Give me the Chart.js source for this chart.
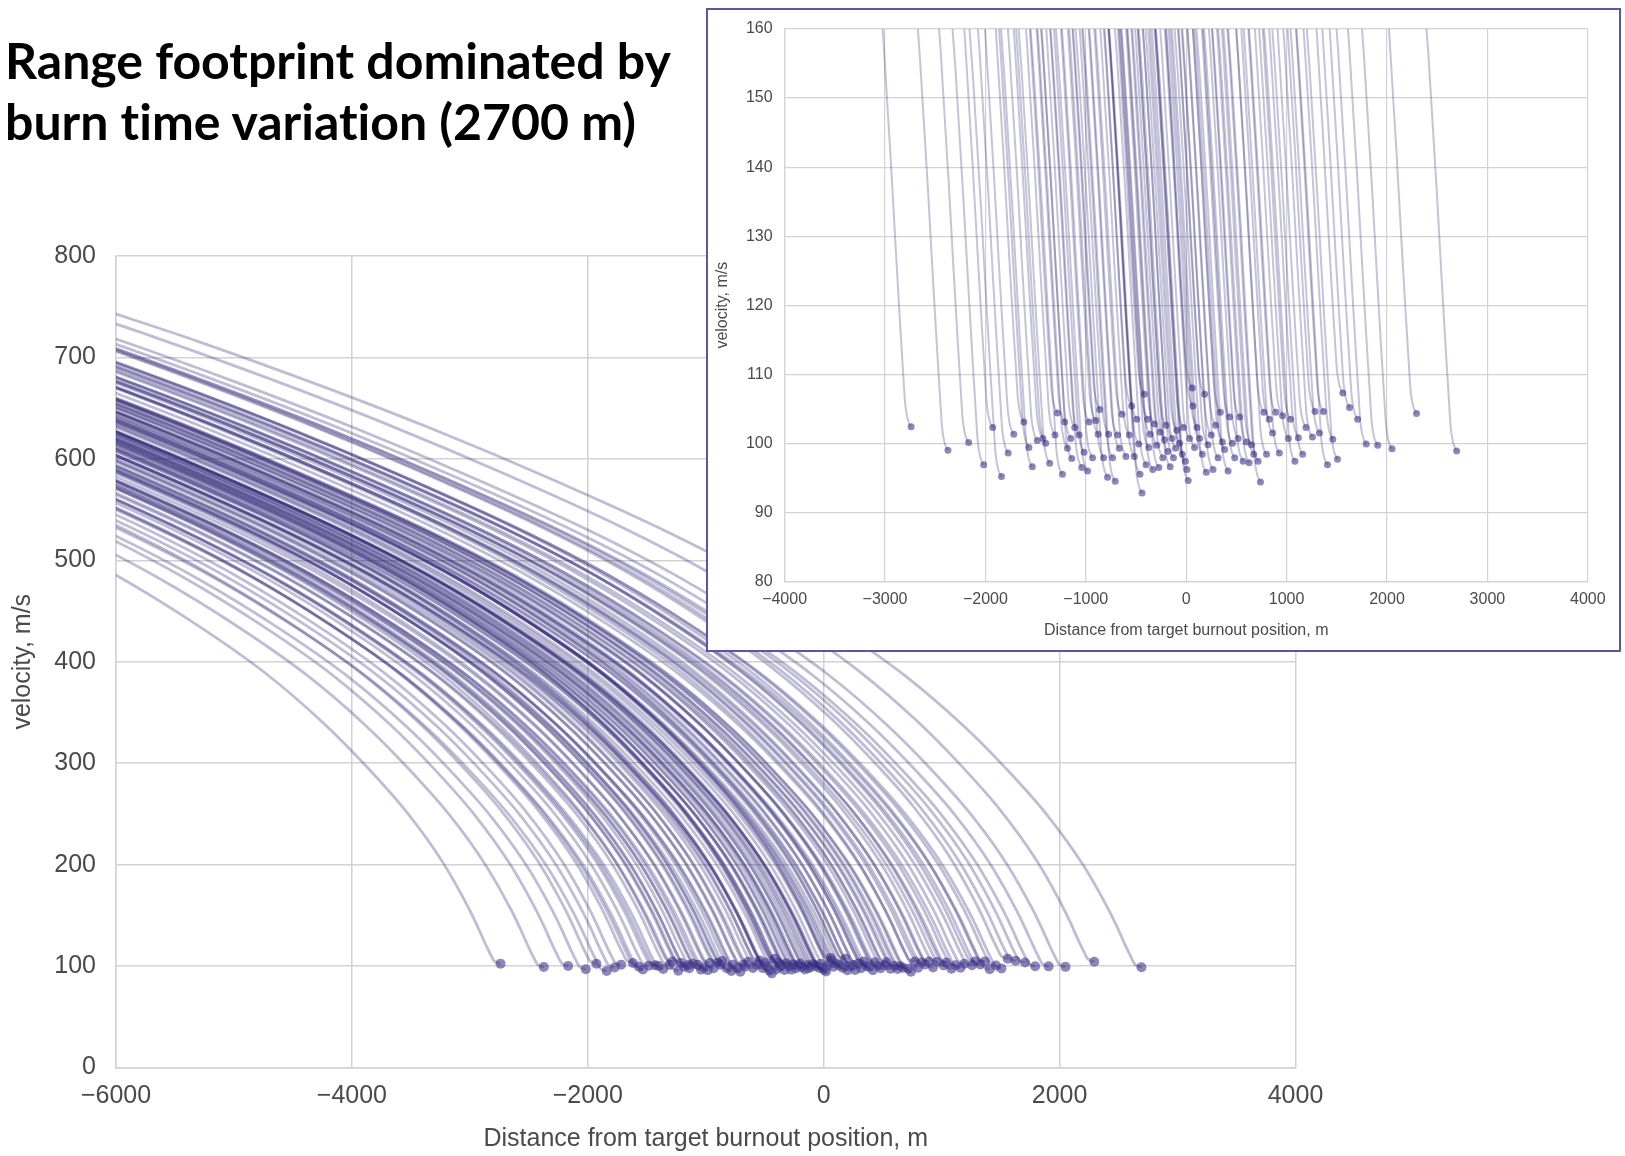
<!DOCTYPE html>
<html>
<head>
<meta charset="utf-8">
<script src="https://cdn.jsdelivr.net/npm/chart.js@4.4.0/dist/chart.umd.min.js"></script>
<style>
  html, body { margin: 0; padding: 0; background: #fff; }
  body { width: 1625px; height: 1156px; position: relative; overflow: hidden; }
  #title {
    position: absolute; left: 5px; top: 30px;
    font-family: Lato, 'Open Sans', sans-serif; font-weight: 700;
    font-size: 50px; line-height: 61px; color: #000; white-space: nowrap;
    font-variant-ligatures: none;
  }
  #mainChart { position: absolute; left: 0; top: 200px; }
  #insetBox {
    position: absolute; left: 706px; top: 8px; width: 911px; height: 640px;
    border: 2px solid #5b56a3; background: #fff;
  }
  #insetChart { position: absolute; left: 0; top: 0; }
</style>
</head>
<body>
<div id="title">Range footprint dominated by<br>burn time variation (2700 m)</div>
<canvas id="mainChart" width="1340" height="956"></canvas>
<div id="insetBox"><canvas id="insetChart" width="911" height="640"></canvas></div>
<script>
// burnout points (distance from target burnout position, m / velocity, m/s)
const burnoutX = [
  -2740, -2373, -2167, -2017, -1927, -1840, -1773, -1717, -1617, -1567,
  -1533, -1483, -1427, -1400, -1360, -1307, -1283, -1233, -1210, -1183,
  -1150, -1140, -1110, -1067, -1040, -1017, -983, -967, -933, -900,
  -877, -860, -823, -783, -773, -733, -707, -683, -667, -640,
  -600, -567, -543, -517, -493, -473, -460, -440, -417, -400,
  -383, -373, -360, -333, -317, -293, -273, -260, -233, -217,
  -200, -183, -160, -140, -127, -107, -93, -67, -40, -27,
  -7, 7, 20, 33, 60, 67, 83, 107, 133, 160,
  183, 200, 217, 250, 267, 293, 317, 340, 360, 383,
  417, 433, 460, 483, 517, 533, 567, 600, 627, 650,
  673, 717, 740, 773, 800, 827, 860, 893, 927, 960,
  1017, 1040, 1083, 1117, 1160, 1193, 1257, 1283, 1327, 1367,
  1407, 1460, 1507, 1560, 1627, 1707, 1793, 1907, 2050, 2294,
  2694
];
const burnoutV = [
  102.4, 99.0, 100.1, 96.9, 102.3, 95.2, 98.6, 101.3, 103.1, 99.4,
  96.6, 100.4, 100.7, 100.0, 97.1, 101.2, 104.4, 95.5, 103.1, 99.3,
  100.7, 97.8, 102.3, 101.2, 96.5, 98.7, 96.0, 103.1, 97.9, 103.3,
  101.3, 104.9, 97.9, 95.1, 101.3, 97.9, 94.5, 101.2, 99.3, 104.2,
  98.1, 101.2, 105.4, 98.1, 103.5, 99.9, 95.5, 92.8, 107.1, 96.9,
  103.5, 99.4, 101.3, 96.2, 102.8, 99.7, 96.5, 101.6, 97.9, 100.5,
  102.6, 98.8, 96.6, 100.7, 97.9, 99.3, 101.9, 100.0, 98.4, 102.3,
  97.4, 96.2, 94.6, 100.7, 108.0, 105.4, 99.4, 102.3, 100.7, 98.4,
  107.1, 95.8, 99.8, 101.2, 96.2, 102.6, 97.9, 104.5, 100.2, 99.1,
  96.0, 103.8, 100.0, 97.9, 100.7, 103.8, 97.4, 100.2, 97.2, 99.8,
  98.4, 97.4, 94.4, 104.5, 98.4, 103.5, 101.5, 104.5, 98.6, 104.0,
  100.7, 103.5, 97.4, 100.8, 98.4, 102.3, 100.9, 104.6, 101.5, 104.6,
  96.9, 100.6, 97.7, 107.3, 105.2, 103.5, 99.9, 99.7, 99.2, 104.3,
  98.9
];

// trajectory shape: distance before burnout (m)
// and the velocity above burnout velocity at that distance (m/s)
const profileDist = [-8800, -8000, -7000, -6000, -5000, -4000, -3274, -2600, -2000,
  -1500, -1150, -800, -490, -280, -200, -150, -110, -80, -60, -40, -20, 0];
const profileGain = [648, 617, 575, 530, 481, 428, 384, 336, 287,
  237, 196, 150, 100, 57, 38, 25, 15, 8, 3.5, 1.5, 0.5, 0];

const mainXTicks = [-6000, -4000, -2000, 0, 2000, 4000];
const mainYTicks = [0, 100, 200, 300, 400, 500, 600, 700, 800];
const insetXTicks = [-4000, -3000, -2000, -1000, 0, 1000, 2000, 3000, 4000];
const insetYTicks = [80, 90, 100, 110, 120, 130, 140, 150, 160];

const FONT = "'Liberation Sans', Arial, sans-serif";
const TEXT = '#4a4a4a';
const GRID = '#d2d2d2';

const fmt = v => v < 0 ? '\u2212' + Math.abs(v) : String(v);

function trajectory(i) {
  return profileDist.map((d, k) => ({ x: burnoutX[i] + d, y: burnoutV[i] + profileGain[k] }));
}

function buildDatasets(lineWidth, dotRadius, lineAlpha) {
  const sets = burnoutX.map((x, i) => ({
    data: trajectory(i),
    showLine: true,
    borderColor: 'rgba(42,32,115,' + lineAlpha + ')',
    borderWidth: lineWidth,
    pointRadius: 0,
    cubicInterpolationMode: 'monotone',
    order: 0
  }));
  sets.push({
    data: burnoutX.map((x, i) => ({ x: x, y: burnoutV[i] })),
    showLine: false,
    pointRadius: dotRadius,
    pointBackgroundColor: 'rgba(80,70,150,0.65)',
    pointBorderWidth: 0,
    order: 1
  });
  return sets;
}

function makeConfig(o) {
  return {
    type: 'scatter',
    data: { datasets: buildDatasets(o.lineWidth, o.dotRadius, o.lineAlpha) },
    options: {
      responsive: false,
      animation: false,
      layout: { padding: o.padding },
      plugins: { legend: { display: false }, tooltip: { enabled: false } },
      scales: {
        x: {
          type: 'linear', min: o.xTicks[0], max: o.xTicks[o.xTicks.length - 1],
          afterBuildTicks: s => { s.ticks = o.xTicks.map(v => ({ value: v })); },
          afterFit: s => { s.height = o.xHeight; s.paddingLeft = 0; s.paddingRight = 0; },
          ticks: { color: TEXT, font: { family: FONT, size: o.fontSize }, padding: o.xTickPad, callback: fmt, maxRotation: 0 },
          grid: { color: GRID, lineWidth: o.gridWidth, drawTicks: false },
          border: { display: true, color: GRID, width: o.gridWidth },
          title: { display: true, text: 'Distance from target burnout position, m', color: TEXT,
                   font: { family: FONT, size: o.fontSize }, padding: { top: 0, bottom: o.xTitlePad } }
        },
        y: {
          type: 'linear', min: o.yTicks[0], max: o.yTicks[o.yTicks.length - 1],
          afterBuildTicks: s => { s.ticks = o.yTicks.map(v => ({ value: v })); },
          afterFit: s => { s.width = o.yWidth; s.paddingTop = 0; s.paddingBottom = 0; },
          ticks: { color: TEXT, font: { family: FONT, size: o.fontSize }, padding: o.yTickPad, callback: fmt },
          grid: { color: GRID, lineWidth: o.gridWidth, drawTicks: false },
          border: { display: true, color: GRID, width: o.gridWidth },
          title: { display: true, text: 'velocity, m/s', color: TEXT,
                   font: { family: FONT, size: o.fontSize }, padding: { top: o.yTitlePad, bottom: 0 } }
        }
      }
    }
  };
}

new Chart(document.getElementById('mainChart'), makeConfig({
  xTicks: mainXTicks, yTicks: mainYTicks,
  lineWidth: 2.8, dotRadius: 5, lineAlpha: 0.3, gridWidth: 1.5, fontSize: 25,
  padding: { left: 0, top: 56, right: 44.5, bottom: 0 },
  xHeight: 88.5, yWidth: 116, xTickPad: 14, yTickPad: 20, xTitlePad: 2, yTitlePad: 8
}));

new Chart(document.getElementById('insetChart'), makeConfig({
  xTicks: insetXTicks, yTicks: insetYTicks,
  lineWidth: 2, dotRadius: 3.5, lineAlpha: 0.27, gridWidth: 1.2, fontSize: 16,
  padding: { left: 0, top: 19, right: 31.2, bottom: 0 },
  xHeight: 68.6, yWidth: 76.6, xTickPad: 9, yTickPad: 12, xTitlePad: 10, yTitlePad: 5
}));
</script>
</body>
</html>
